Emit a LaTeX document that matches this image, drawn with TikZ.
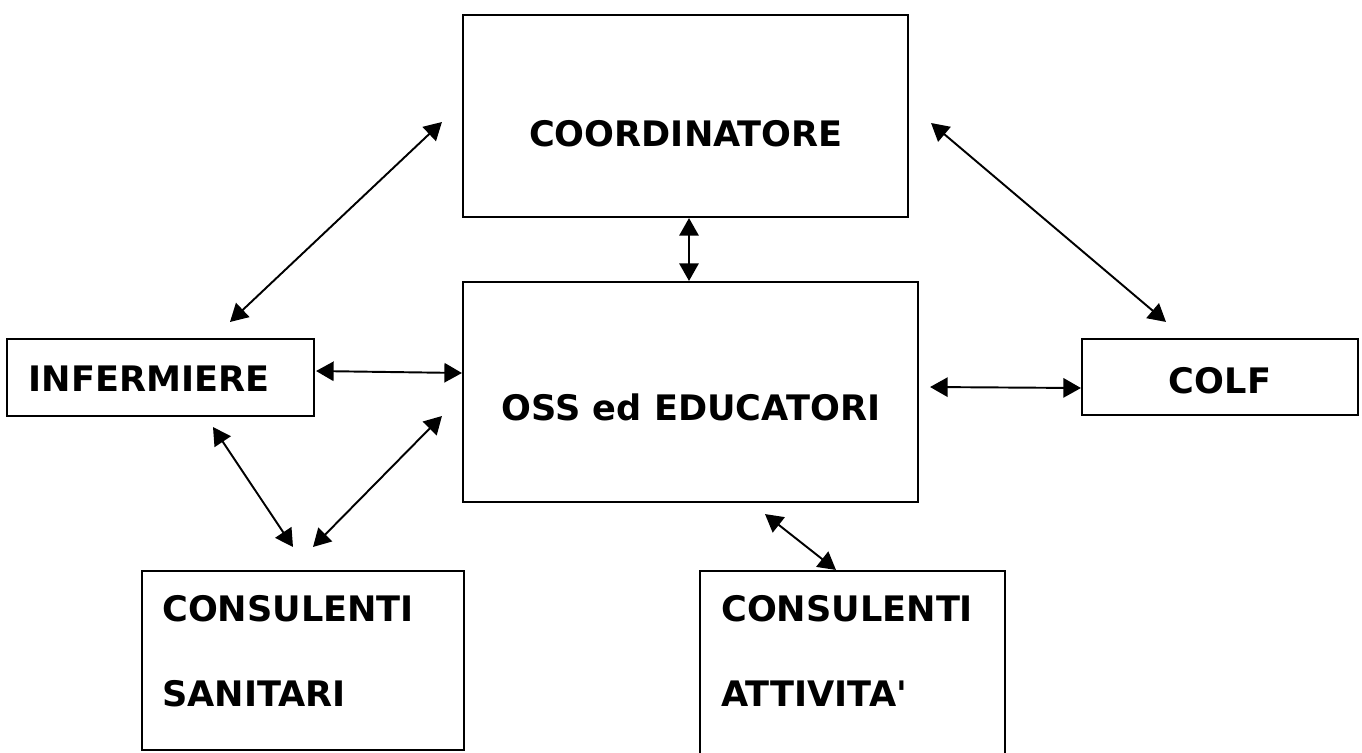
\documentclass[tikz,border=0pt]{standalone}
\usepackage{fontspec}
\setmainfont{DejaVu Sans}
\usepackage{tikz}
\usetikzlibrary{arrows, arrows.meta, calc, positioning}
\tikzset{
  box/.style={draw, line width=1.2pt, inner sep=0pt},
  lbl/.style={font=\bfseries\fontsize{20}{24}\selectfont, inner sep=0pt},
  link/.style={<->, line width=1.1pt}
}
\begin{document}
\begin{tikzpicture}[x=0.02cm, y=-0.02cm, >={Triangle[length=10pt,width=11pt]}]
\useasboundingbox (0,0) rectangle (1362,752);
\clip (0,0) rectangle (1362,752);

% boxes
\node[box, minimum width={445*0.02cm}, minimum height={202*0.02cm}] (coord) at (685.5,116) {};
\node[box, minimum width={455*0.02cm}, minimum height={220*0.02cm}] (oss) at (690.5,392) {};
\node[box, minimum width={307*0.02cm}, minimum height={77*0.02cm}] (inf) at (160.5,377.5) {};
\node[box, minimum width={276*0.02cm}, minimum height={76*0.02cm}] (colf) at (1220,377) {};
\node[box, minimum width={322*0.02cm}, minimum height={179*0.02cm}] (san) at (303,660.5) {};
\node[box, minimum width={305*0.02cm}, minimum height={229*0.02cm}] (att) at (852.5,685.5) {};

% texts
\node[lbl, anchor=base] (tcoord) at ($(coord.center)+(0.5,30)$) {COORDINATORE};
\node[lbl, anchor=base] (toss) at ($(oss.center)+(0.5,28)$) {OSS ed EDUCATORI};
\node[lbl, anchor=base] (tinf) at ($(inf.center)+(-11.5,14)$) {INFERMIERE};
\node[lbl, anchor=base] (tcolf) at ($(colf.center)+(0,16)$) {COLF};
\node[lbl, anchor=base west] (tsan1) at ($(san.north west)+(21,52)$) {CONSULENTI};
\node[lbl, anchor=base west] (tsan2) at ($(san.north west)+(21,137)$) {SANITARI};
\node[lbl, anchor=base west] (tatt1) at ($(att.north west)+(22,52)$) {CONSULENTI};
\node[lbl, anchor=base west] (tatt2) at ($(att.north west)+(22,137)$) {ATTIVITA\textquotesingle};

% links
\draw[link] ($(coord.west)+(-20,6)$) -- ($(inf.north)+(69.5,-16)$);
\draw[link] ($(coord.east)+(22,7)$) -- ($(colf.north)+(-54,-16)$);
\draw[link] ($(coord.south)+(3.5,0)$) -- ($(oss.north)+(-1.5,0)$);
\draw[link] ($(inf.east)+(1,-6.5)$) -- ($(oss.west)+(0,-19)$);
\draw[link] ($(oss.east)+(11,-5)$) -- ($(colf.west)+(0,11)$);
\draw[link] ($(inf.south)+(52.5,10)$) -- ($(san.north)+(-10,-23)$);
\draw[link] ($(san.north)+(10,-23)$) -- ($(oss.west)+(-20,24)$);
\draw[link] ($(oss.south)+(74.5,11)$) -- ($(att.north)+(-16.5,0)$);
\end{tikzpicture}
\end{document}
